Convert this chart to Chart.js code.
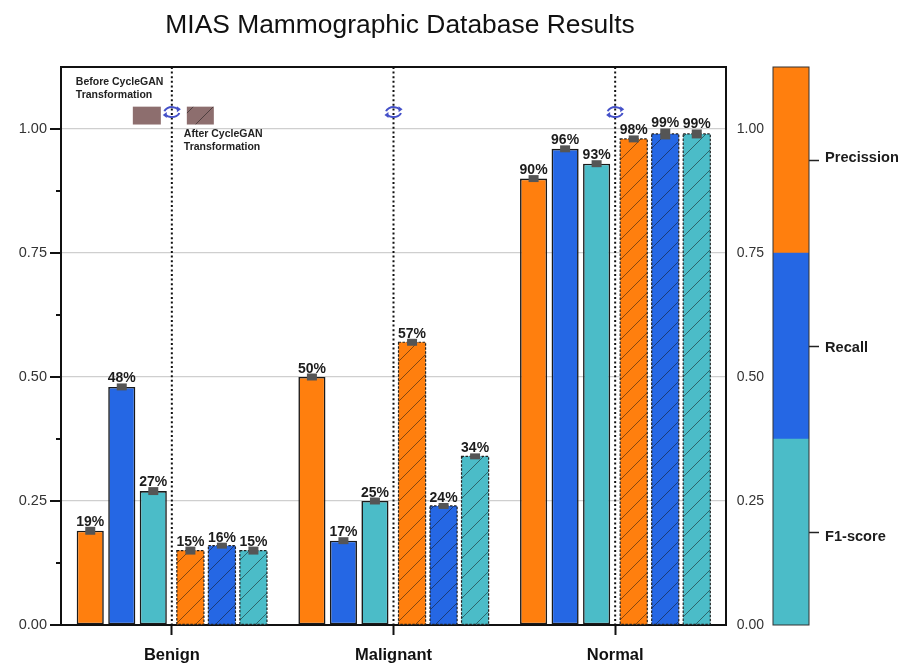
<!DOCTYPE html>
<html><head><meta charset="utf-8">
<script src="https://cdn.jsdelivr.net/npm/chart.js@4/dist/chart.umd.min.js"></script>
<style>
html,body{margin:0;padding:0;background:#fff;width:899px;height:663px;overflow:hidden}
canvas{position:absolute;top:0}
#main{left:0}
#bar{left:725px}
</style></head><body>
<canvas id="main" width="800" height="663" style="width:800px;height:663px"></canvas>
<canvas id="bar" width="174" height="663" style="width:174px;height:663px"></canvas>
<script>
const titleText = 'MIAS Mammographic Database Results';
const categories = ['Benign','Malignant','Normal'];
const precisionBefore = [0.19,0.50,0.90];
const recallBefore    = [0.48,0.17,0.96];
const f1Before        = [0.27,0.25,0.93];
const precisionAfter  = [0.15,0.57,0.98];
const recallAfter     = [0.16,0.24,0.99];
const f1After         = [0.15,0.34,0.99];
const errPrecisionBefore = [0.006,0.005,0.005];
const errRecallBefore    = [0.005,0.005,0.005];
const errF1Before        = [0.006,0.005,0.005];
const errPrecisionAfter  = [0.006,0.005,0.005];
const errRecallAfter     = [0.004,0.004,0.009];
const errF1After         = [0.006,0.004,0.007];
const orange='#ff7f0e', blue='#2567e4', teal='#4bbcc8';
const yTicks=[0,0.125,0.25,0.375,0.5,0.625,0.75,0.875,1];
const legendNames=['F1-score','Recall','Precission'];
const legendSpan=[0.375,0.375,0.375];
const legendTickValues=[0.1875,0.5625,0.9375];
const legendAxisTicks=[0,0.25,0.5,0.75,1];
const yMax=1.125;
const sans='"Liberation Sans", Arial, sans-serif';

function hatch(color){
  const s=20, c=document.createElement('canvas'); c.width=s; c.height=s;
  const x=c.getContext('2d');
  x.fillStyle=color; x.fillRect(0,0,s,s);
  x.strokeStyle='rgba(20,20,20,0.65)'; x.lineWidth=0.8;
  x.beginPath(); x.moveTo(-2,s+2); x.lineTo(s+2,-2); x.moveTo(-2,2); x.lineTo(2,-2); x.moveTo(s-2,s+2); x.lineTo(s+2,s-2); x.stroke();
  return document.createElement('canvas').getContext('2d').createPattern(c,'repeat');
}
function ds(label,data,err,color,after){
  return {label,data,err,after,backgroundColor:after?hatch(color):color,
    borderColor:'#1a1a1a',borderWidth:after?0:1.6,borderSkipped:false,
    categoryPercentage:0.853,barPercentage:0.86};
}
const groupGap=2.8;
const plugin={
  id:'marks',
  afterDatasetsUpdate(chart){
    chart.data.datasets.forEach((d,i)=>{
      const shift=i<3?-groupGap:groupGap;
      chart.getDatasetMeta(i).data.forEach(el=>{el.x+=shift;});
    });
  },
  beforeDatasetsDraw(chart){
    const {ctx,scales:{x,y},chartArea:a}=chart;
    ctx.save();ctx.strokeStyle='#111';ctx.lineWidth=2;ctx.setLineDash([2,2.6]);
    categories.forEach((c,i)=>{const px=x.getPixelForValue(i);
      ctx.beginPath();ctx.moveTo(px,a.top);ctx.lineTo(px,a.bottom);ctx.stroke();});
    ctx.restore();
  },
  afterDatasetsDraw(chart){
    const {ctx,scales:{x,y},chartArea:a}=chart;
    ctx.save();
    chart.data.datasets.forEach((d,i)=>{
      chart.getDatasetMeta(i).data.forEach((el,j)=>{
        const p=el.getProps(['x','y','base','width'],true);
        if(d.after){
          ctx.strokeStyle='#222';ctx.lineWidth=1.2;ctx.setLineDash([2.5,1.5]);
          ctx.strokeRect(p.x-p.width/2,p.y,p.width,p.base-p.y);ctx.setLineDash([]);
        }
        const hi=y.getPixelForValue(d.data[j]+d.err[j]), lo=y.getPixelForValue(d.data[j]-d.err[j]);
        ctx.fillStyle='#555';ctx.fillRect(p.x-5,hi-1,10,lo-hi+2);
        ctx.fillStyle='#1c1c1c';ctx.font='bold 14px '+sans;ctx.textAlign='center';ctx.textBaseline='alphabetic';
        ctx.fillText(Math.round(d.data[j]*100)+'%',p.x,hi-2);
      });
    });
    // frame
    ctx.strokeStyle='#111';ctx.lineWidth=2;
    ctx.beginPath();ctx.moveTo(a.left,a.bottom);ctx.lineTo(a.left,a.top);ctx.lineTo(a.right,a.top);ctx.lineTo(a.right,a.bottom);ctx.stroke();
    // swap icons
    const iconY=y.getPixelForValue(1.034);
    categories.forEach((c,i)=>{
      const cx=x.getPixelForValue(i), r=6;
      ctx.strokeStyle='#4450c8';ctx.fillStyle='#4450c8';ctx.lineWidth=2;
      [[Math.PI*1.05,Math.PI*1.8],[Math.PI*0.05,Math.PI*0.8]].forEach(([s,e])=>{
        ctx.beginPath();ctx.ellipse(cx,iconY,r+1.5,r-1,0,s,e);ctx.stroke();
        const ax=cx+(r+1.5)*Math.cos(e),ay=iconY+(r-1)*Math.sin(e),dir=e<Math.PI?-1:1;
        ctx.beginPath();ctx.moveTo(ax+dir*3,ay-dir*0);ctx.lineTo(ax-dir*1,ay-3);ctx.lineTo(ax-dir*1,ay+3);ctx.closePath();ctx.fill();
      });
    });
    // key swatches beside the first divider
    const c0=x.getPixelForValue(0), top=y.getPixelForValue(1.045), bot=y.getPixelForValue(1.009);
    ctx.fillStyle='#8d6e6e';ctx.fillRect(c0-39,top,28,bot-top);
    ctx.fillStyle=hatch('#8d6e6e');ctx.fillRect(c0+15,top,27,bot-top);
    ctx.fillStyle='#222';ctx.font='bold 10.5px '+sans;ctx.textAlign='left';
    ctx.fillText('Before CycleGAN',c0-96,85);ctx.fillText('Transformation',c0-96,98);
    ctx.fillText('After CycleGAN',c0+12,137);ctx.fillText('Transformation',c0+12,150);
    ctx.restore();
    // minor/major tick marks
    ctx.save();ctx.strokeStyle='#111';ctx.lineWidth=2;
    yTicks.forEach((v,i)=>{const py=y.getPixelForValue(v),len=i%2?5:11;
      ctx.beginPath();ctx.moveTo(a.left,py);ctx.lineTo(a.left-len,py);ctx.stroke();});
    ctx.restore();
  }
};
new Chart(document.getElementById('main'),{
  type:'bar',
  plugins:[plugin],
  data:{labels:categories,datasets:[
    ds('Precission',precisionBefore,errPrecisionBefore,orange,false),
    ds('Recall',recallBefore,errRecallBefore,blue,false),
    ds('F1-score',f1Before,errF1Before,teal,false),
    ds('Precission after',precisionAfter,errPrecisionAfter,orange,true),
    ds('Recall after',recallAfter,errRecallAfter,blue,true),
    ds('F1-score after',f1After,errF1After,teal,true)
  ]},
  options:{
    responsive:false,animation:false,
    layout:{padding:{top:10,left:0,right:0,bottom:0}},
    plugins:{legend:{display:false},tooltip:{enabled:false},
      title:{display:true,text:titleText,color:'#111',font:{family:sans,size:26.4,weight:'normal'},padding:{top:0,bottom:25.3}}},
    scales:{
      x:{offset:true,border:{color:'#111',width:2},
        grid:{display:true,drawOnChartArea:false,drawTicks:true,offset:false,tickLength:10,tickColor:'#111',tickWidth:2},
        ticks:{color:'#111',font:{family:sans,size:16.5,weight:'bold'},padding:11,maxRotation:0},
        afterFit(s){s.height=38;}},
      y:{min:0,max:yMax,border:{color:'#111',width:2},
        afterBuildTicks(s){s.ticks=yTicks.map(v=>({value:v}));},
        grid:{drawTicks:false,color:c=>(c.index%2===0&&c.index>0)?'#cfcfcf':'rgba(0,0,0,0)',lineWidth:1.2},
        ticks:{color:'#333',font:{family:sans,size:14.5},padding:14,
          callback:(v,i)=>i%2===0?v.toFixed(2):''},
        afterFit(s){s.width=61;}},
      margin:{position:'right',min:0,max:1,border:{display:false},grid:{display:false},
        ticks:{display:false},afterFit(s){s.width=74;}}
    }
  }
});
const legendLabelDrop=[5,2,-2];
new Chart(document.getElementById('bar'),{
  type:'bar',
  data:{labels:['key'],datasets:[
    {label:legendNames[0],data:[legendSpan[0]],backgroundColor:teal},
    {label:legendNames[1],data:[legendSpan[1]],backgroundColor:blue},
    {label:legendNames[2],data:[legendSpan[2]],backgroundColor:orange}
  ].map(d=>({...d,categoryPercentage:1,barPercentage:1,borderWidth:0}))},
  plugins:[{id:'outline',afterDraw(ch){
    const a=ch.chartArea,c=ch.ctx,s=ch.scales.y2;c.save();
    c.strokeStyle='#333';c.lineWidth=1;c.strokeRect(a.left,a.top,a.right-a.left,a.bottom-a.top);
    c.fillStyle='#1c1c1c';c.font='bold 14.6px '+sans;c.textAlign='left';c.textBaseline='middle';
    legendTickValues.forEach((v,i)=>c.fillText(legendNames[i],a.right+16,s.getPixelForValue(v)+legendLabelDrop[i]));
    c.restore();}}],
  options:{
    responsive:false,animation:false,
    layout:{padding:{top:67,bottom:38,left:0,right:0}},
    plugins:{legend:{display:false},tooltip:{enabled:false}},
    scales:{
      x:{stacked:true,display:false},
      y:{stacked:true,min:0,max:yMax,position:'left',border:{display:false},
        afterBuildTicks(s){s.ticks=legendAxisTicks.map(v=>({value:v}));},
        grid:{display:false},
        ticks:{color:'#333',font:{family:sans,size:14},padding:1,callback:v=>v.toFixed(2)},
        afterFit(s){s.width=48;}},
      y2:{min:0,max:yMax,position:'right',border:{display:false},
        afterBuildTicks(s){s.ticks=legendTickValues.map(v=>({value:v}));},
        grid:{drawOnChartArea:false,tickLength:10,tickColor:'#222',tickWidth:1.5},
        ticks:{display:false},
        afterFit(s){s.width=90;}}
    }
  }
});
</script>
</body></html>
